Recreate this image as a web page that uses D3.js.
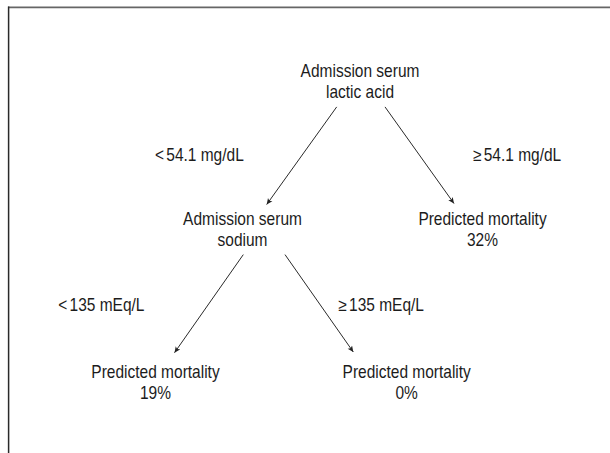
<!DOCTYPE html>
<html><head><meta charset="utf-8">
<script src="https://cdn.jsdelivr.net/npm/d3@7"></script>
<style>
html,body{margin:0;padding:0;background:#fff;}
svg text{font-family:"Liberation Sans","Arial",sans-serif;font-size:17.5px;fill:#1c1c1c;}
</style></head>
<body>
<svg id="c" width="610" height="453"></svg>
<script>
// ---- data ----
const nodeIds     = ["lactate", "sodium", "high", "lowNa", "normNa"];
const nodeParents = ["", "lactate", "lactate", "sodium", "sodium"];
const nodeLine1   = ["Admission serum", "Admission serum", "Predicted mortality", "Predicted mortality", "Predicted mortality"];
const nodeLine2   = ["lactic acid", "sodium", "32%", "19%", "0%"];
const edgeSymbols = ["", "<", "≥", "<", "≥"];
const edgeValues  = ["", "54.1 mg/dL", "54.1 mg/dL", "135 mEq/L", "135 mEq/L"];

// ---- layout (presentation only) ----
const W = 610, H = 453, NARROW = 0.886, LINE = 20.8;
const nodeX = {lactate: 360, sodium: 242.5, high: 482.5, lowNa: 155.5, normNa: 406.7};
const y = d3.scaleLinear().domain([0, 1, 2]).range([77.3, 225, 377.7]);
// per-edge geometry, keyed by child: start dx from parent centre, tip dx from child centre, tip dy above child baseline, label left x
const edgeGeom = {
  sodium: {sdx: -23.3, tdx: 24.2,  tdy: 20.5, lx: 155},
  high:   {sdx: 25,    tdx: -28.5, tdy: 21.5, lx: 473},
  lowNa:  {sdx: 0.8,   tdx: 19,    tdy: 25,   lx: 58.3},
  normNa: {sdx: 42.5,  tdx: -53.4, tdy: 25.7, lx: 338.3}
};

const svg = d3.select("#c");
const table = nodeIds.map((id, i) => ({id, parent: nodeParents[i] || null,
  l1: nodeLine1[i], l2: nodeLine2[i], sym: edgeSymbols[i], val: edgeValues[i]}));
const root = d3.stratify().id(d => d.id).parentId(d => d.parent)(table);

svg.append("defs").append("marker")
  .attr("id", "ah").attr("viewBox", "0 0 10 10").attr("refX", 10).attr("refY", 5)
  .attr("markerWidth", 7).attr("markerHeight", 6).attr("markerUnits", "userSpaceOnUse")
  .attr("orient", "auto")
  .append("path").attr("d", "M0,0.5 L10,5 L0,9.5 L2.5,5 Z").attr("fill", "#222");

// frame: top and left only
svg.append("line").attr("x1", 8).attr("y1", 7.4).attr("x2", W).attr("y2", 7.4)
  .attr("stroke", "#666").attr("stroke-width", 1.8);
svg.append("line").attr("x1", 8.6).attr("y1", 6.6).attr("x2", 8.6).attr("y2", H)
  .attr("stroke", "#2a2a2a").attr("stroke-width", 1.5);

const nodes = root.descendants();
const g = svg.selectAll("g.node").data(nodes).join("g").attr("class", "node");
[d => d.data.l1, d => d.data.l2].forEach((fn, k) => {
  g.append("text").attr("text-anchor", "middle")
    .attr("transform", d => `translate(${nodeX[d.id]},${y(d.depth) + k * LINE}) scale(${NARROW},1)`)
    .text(fn);
});

const links = root.links();
const startY = d => y(d.source.depth) + LINE + 8.8;
svg.selectAll("line.edge").data(links).join("line").attr("class", "edge")
  .attr("x1", d => nodeX[d.source.id] + edgeGeom[d.target.id].sdx)
  .attr("y1", startY)
  .attr("x2", d => nodeX[d.target.id] + edgeGeom[d.target.id].tdx)
  .attr("y2", d => y(d.target.depth) - edgeGeom[d.target.id].tdy)
  .attr("stroke", "#2a2a2a").attr("stroke-width", 1).attr("marker-end", "url(#ah)");

const lab = svg.selectAll("text.elab").data(links).join("text").attr("class", "elab")
  .attr("transform", d => `translate(${edgeGeom[d.target.id].lx},${(y(d.source.depth) + y(d.target.depth)) / 2 + 10}) scale(${NARROW},1)`);
lab.append("tspan").text(d => d.target.data.sym);
lab.append("tspan").attr("dx", 2.5).text(d => d.target.data.val);
</script>
</body></html>
